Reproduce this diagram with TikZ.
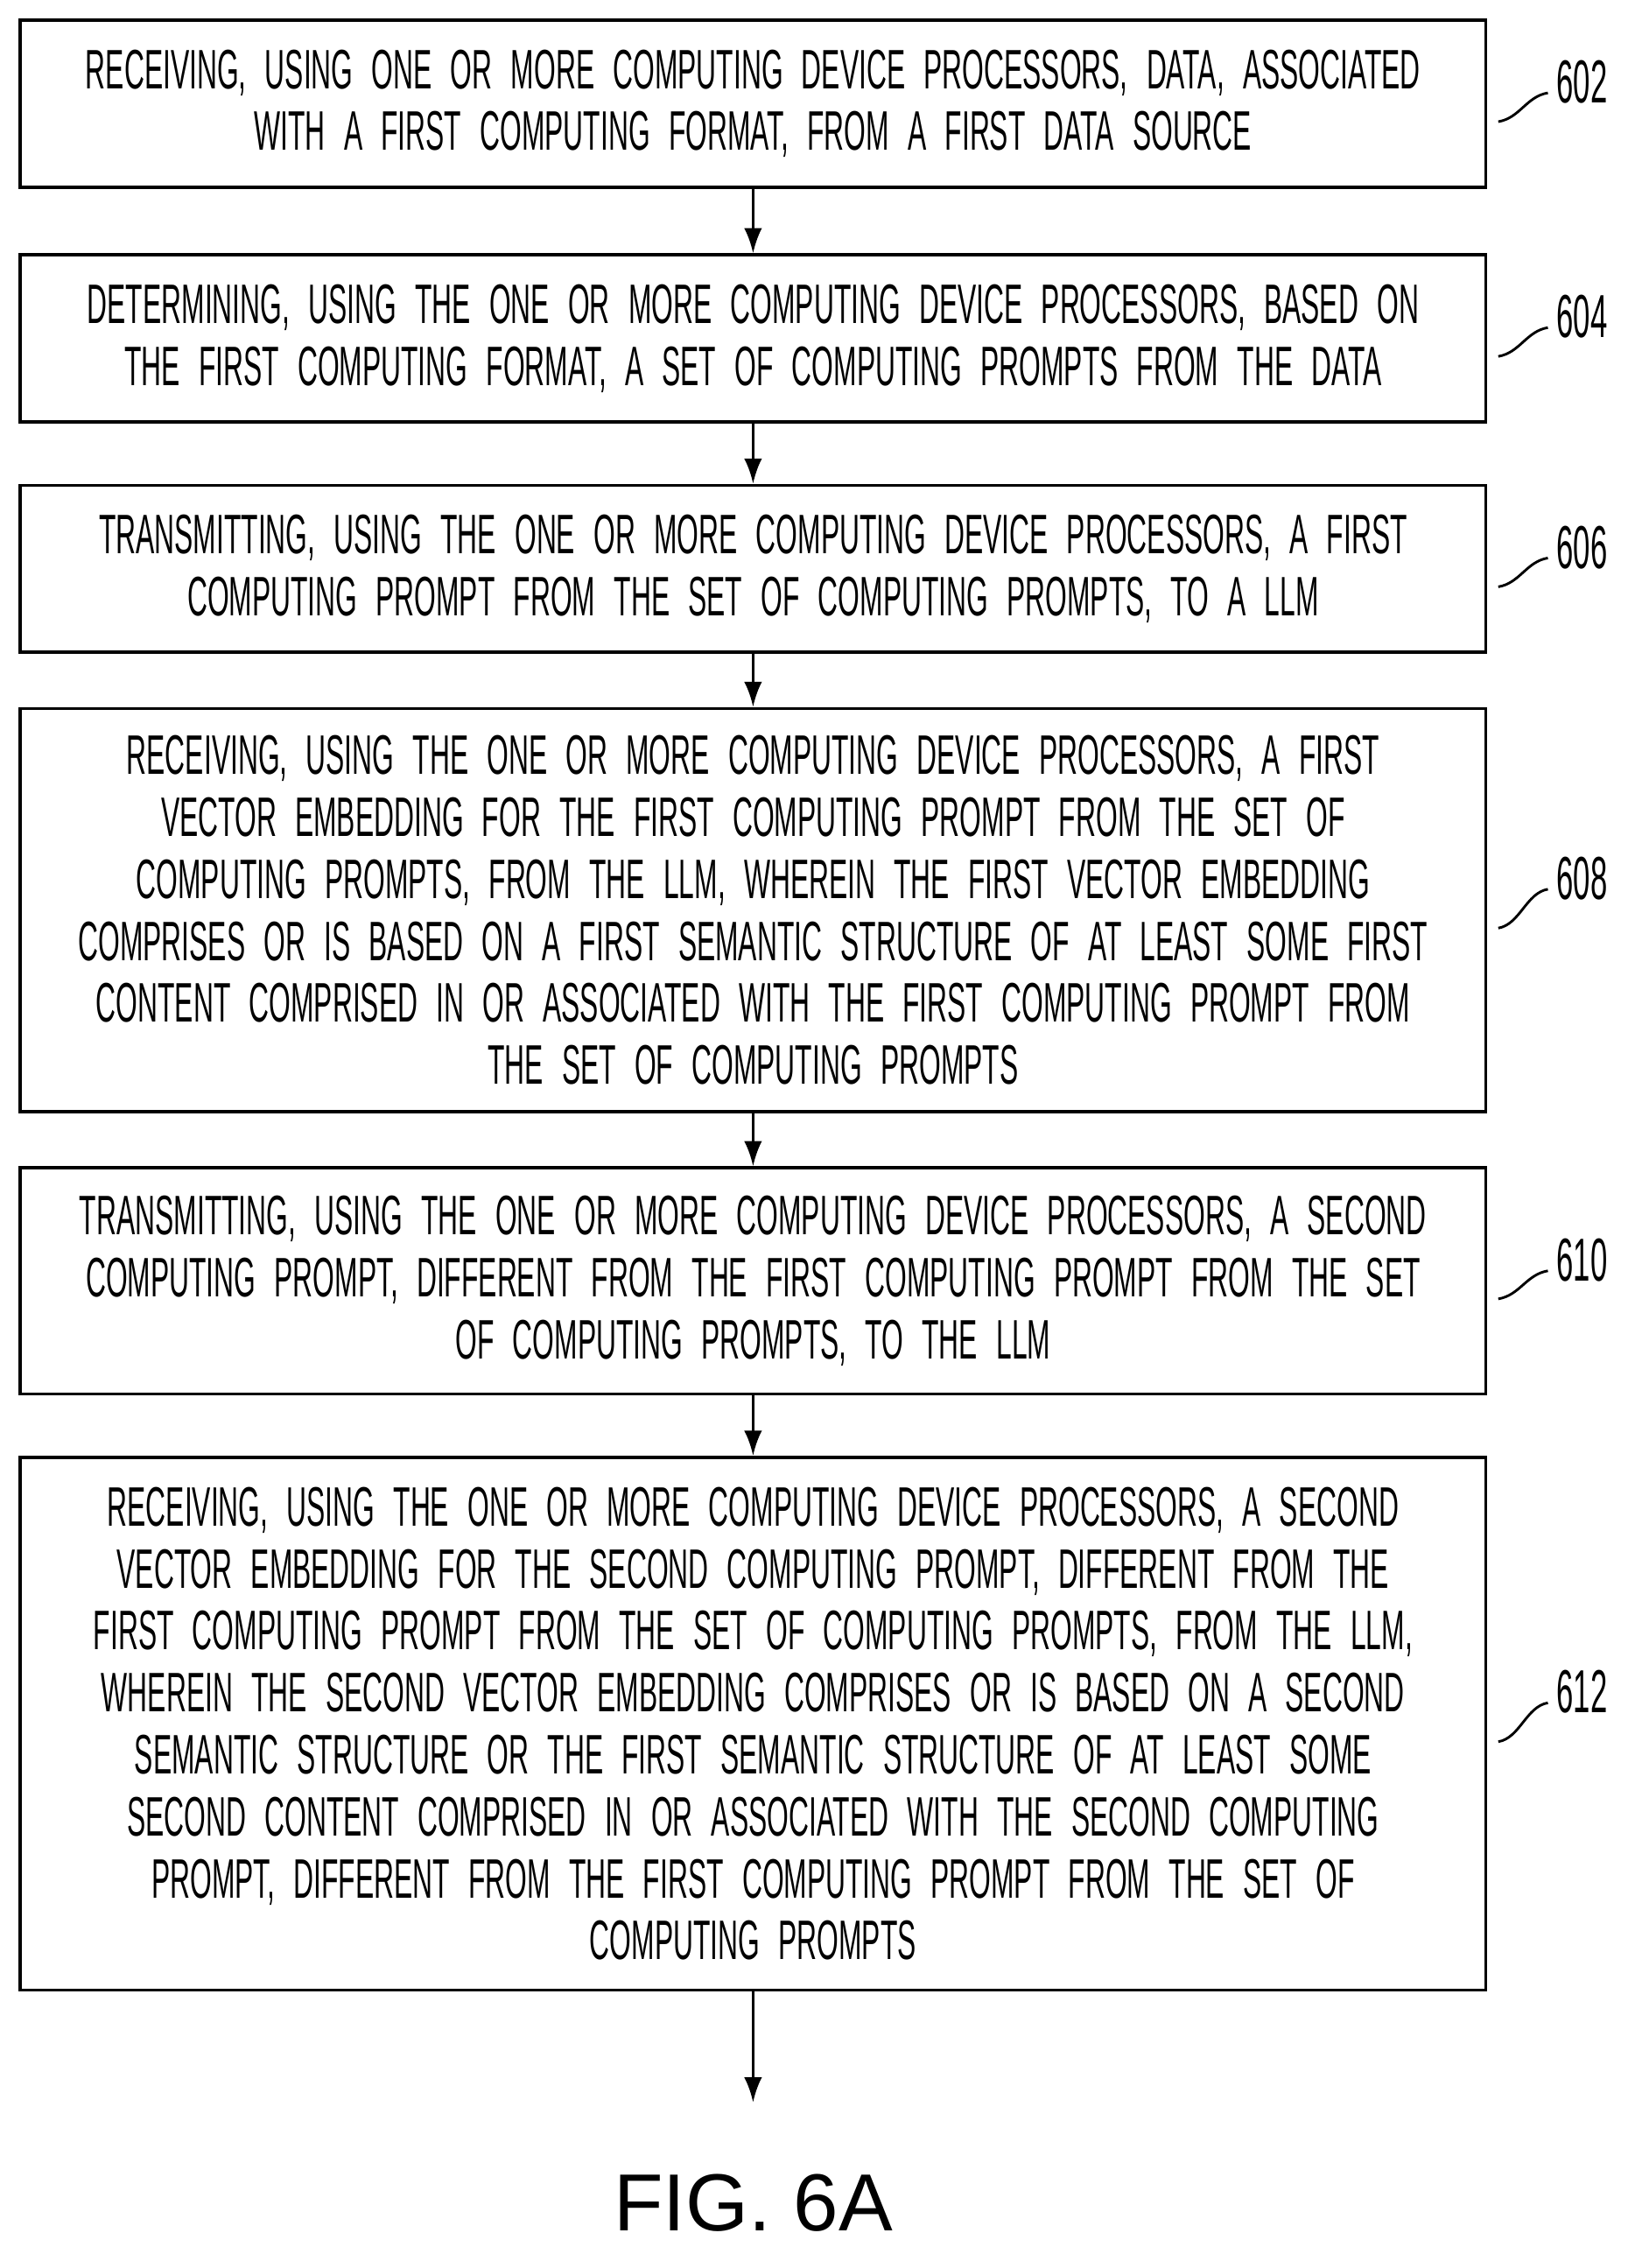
\documentclass[tikz,border=0pt]{standalone}
\usepackage{fontspec}
\setmainfont{Liberation Sans}[FakeStretch=0.5]
\newfontfamily\figfont{Liberation Sans}
\usetikzlibrary{positioning,arrows.meta}

\tikzset{
    stepbox/.style={draw, line width=1.2pt, minimum width=20.36cm, text width=20.3cm,
        align=center, font=\fontsize{22}{24.5}\selectfont, inner sep=0pt},
    flow/.style={-{Latex[length=0.35cm,width=0.25cm]}, line width=1.2pt},
    ref/.style={font=\fontsize{24}{28}\selectfont, anchor=west}
}
\newcommand{\leader}[2]{%
    \draw[line width=1pt] ([xshift=0.15cm,yshift=-0.25cm]#1.east) .. controls +(0.3,0.05) and +(-0.3,-0.05) .. ([yshift=-0.15cm]#2.west);}

\begin{document}
\begin{tikzpicture}
    \useasboundingbox (0,0) rectangle (22.7,-31.5);

    \node[stepbox, minimum height=2.32cm] (s602) at (10.46,-1.44)
        {RECEIVING, USING ONE OR MORE COMPUTING DEVICE PROCESSORS, DATA, ASSOCIATED\\WITH A FIRST COMPUTING FORMAT, FROM A FIRST DATA SOURCE};
    \node[stepbox, minimum height=2.32cm] (s604) at (10.46,-4.7)
        {DETERMINING, USING THE ONE OR MORE COMPUTING DEVICE PROCESSORS, BASED ON\\THE FIRST COMPUTING FORMAT, A SET OF COMPUTING PROMPTS FROM THE DATA};
    \node[stepbox, minimum height=2.32cm] (s606) at (10.46,-7.9)
        {TRANSMITTING, USING THE ONE OR MORE COMPUTING DEVICE PROCESSORS, A FIRST\\COMPUTING PROMPT FROM THE SET OF COMPUTING PROMPTS, TO A LLM};
    \node[stepbox, minimum height=5.6cm] (s608) at (10.46,-12.64)
        {RECEIVING, USING THE ONE OR MORE COMPUTING DEVICE PROCESSORS, A FIRST\\VECTOR EMBEDDING FOR THE FIRST COMPUTING PROMPT FROM THE SET OF\\COMPUTING PROMPTS, FROM THE LLM, WHEREIN THE FIRST VECTOR EMBEDDING\\COMPRISES OR IS BASED ON A FIRST SEMANTIC STRUCTURE OF AT LEAST SOME FIRST\\CONTENT COMPRISED IN OR ASSOCIATED WITH THE FIRST COMPUTING PROMPT FROM\\THE SET OF COMPUTING PROMPTS};
    \node[stepbox, minimum height=3.14cm] (s610) at (10.46,-17.79)
        {TRANSMITTING, USING THE ONE OR MORE COMPUTING DEVICE PROCESSORS, A SECOND\\COMPUTING PROMPT, DIFFERENT FROM THE FIRST COMPUTING PROMPT FROM THE SET\\OF COMPUTING PROMPTS, TO THE LLM};
    \node[stepbox, minimum height=7.4cm] (s612) at (10.46,-23.94)
        {RECEIVING, USING THE ONE OR MORE COMPUTING DEVICE PROCESSORS, A SECOND\\VECTOR EMBEDDING FOR THE SECOND COMPUTING PROMPT, DIFFERENT FROM THE\\FIRST COMPUTING PROMPT FROM THE SET OF COMPUTING PROMPTS, FROM THE LLM,\\WHEREIN THE SECOND VECTOR EMBEDDING COMPRISES OR IS BASED ON A SECOND\\SEMANTIC STRUCTURE OR THE FIRST SEMANTIC STRUCTURE OF AT LEAST SOME\\SECOND CONTENT COMPRISED IN OR ASSOCIATED WITH THE SECOND COMPUTING\\PROMPT, DIFFERENT FROM THE FIRST COMPUTING PROMPT FROM THE SET OF\\COMPUTING PROMPTS};
    \coordinate (tail) at (10.46,-29.2);

    % reference numerals
    \node[ref] (r602) at (21.5,-1.14) {602};
    \node[ref] (r604) at (21.5,-4.4) {604};
    \node[ref] (r606) at (21.5,-7.6) {606};
    \node[ref] (r608) at (21.5,-12.2) {608};
    \node[ref] (r610) at (21.5,-17.5) {610};
    \node[ref] (r612) at (21.5,-23.5) {612};
    \foreach \n in {602,604,606,608,610,612}
        {\leader{s\n}{r\n}}

    \draw[flow] (s602) -- (s604);
    \draw[flow] (s604) -- (s606);
    \draw[flow] (s606) -- (s608);
    \draw[flow] (s608) -- (s610);
    \draw[flow] (s610) -- (s612);
    \draw[flow] (s612) -- (tail);

    \node[font=\figfont\fontsize{32}{36}\selectfont] (fig) at (10.46,-30.6) {FIG. 6A};
\end{tikzpicture}
\end{document}
